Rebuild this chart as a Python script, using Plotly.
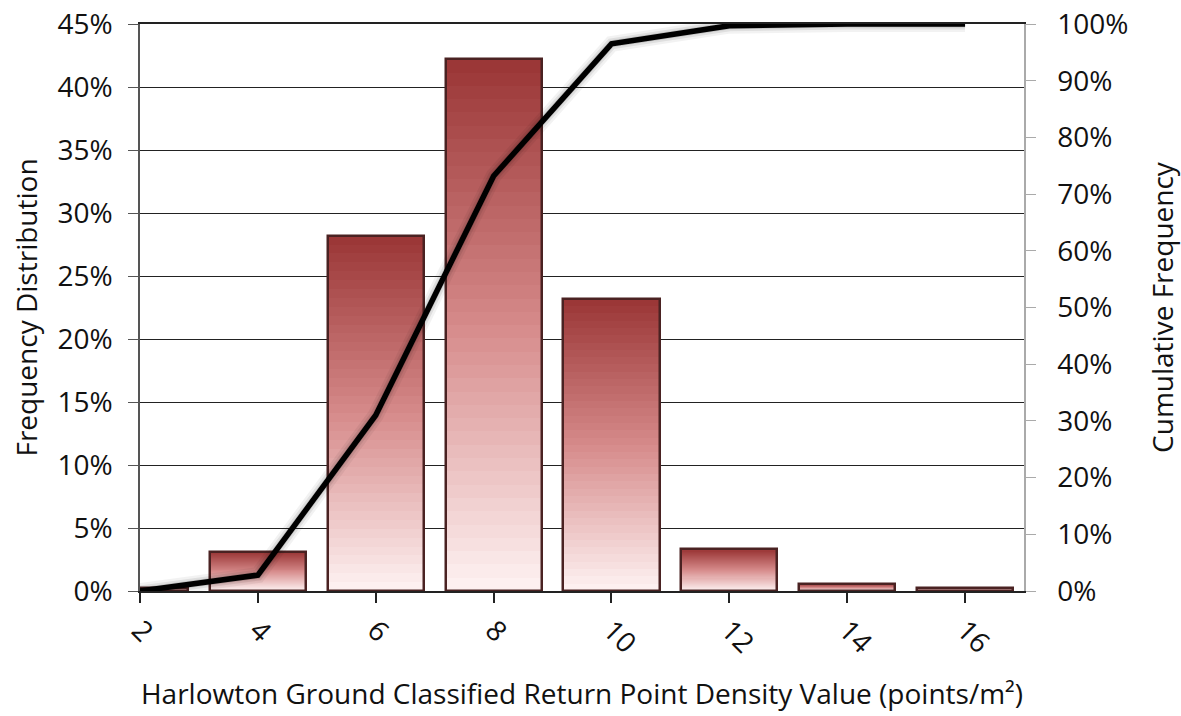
import plotly.graph_objects as go
import numpy as np

# ---- data ----
density_values = [2, 4, 6, 8, 10, 12, 14, 16]
frequency_pct = [0.0026, 0.031, 0.282, 0.422, 0.232, 0.033, 0.0055, 0.0026]
cumulative_pct = [0.0, 0.028, 0.31, 0.732, 0.965, 0.997, 1.0, 1.0]

x_title = "Harlowton Ground Classified Return Point Density Value (points/m²)"
y_title = "Frequency Distribution"
y2_title = "Cumulative Frequency"

FONT = "Open Sans"
FS = 28
BAR_W = 1.63

fig = go.Figure()

# gradient bars via overlaid layers
stops = [(0.0, (155, 55, 55)), (0.5, (214, 138, 138)), (1.0, (253, 240, 240))]


def interp(t):
    for (t0, c0), (t1, c1) in zip(stops[:-1], stops[1:]):
        if t <= t1:
            f = (t - t0) / (t1 - t0)
            return tuple(int(round(a + (b - a) * f)) for a, b in zip(c0, c1))
    return stops[-1][1]


N = 40
vals = np.array(frequency_pct)
for k in range(N):
    frac = 1 - k / N
    r, g, b = interp(k / (N - 1))
    fig.add_trace(go.Bar(
        x=density_values, y=vals * frac, width=BAR_W,
        marker=dict(color=f"rgb({r},{g},{b})", line=dict(width=0)),
        showlegend=False, hoverinfo="skip", yaxis="y"))

# outline
fig.add_trace(go.Bar(
    x=density_values, y=frequency_pct, width=BAR_W,
    marker=dict(color="rgba(0,0,0,0)", line=dict(color="#4a2222", width=2.5)),
    showlegend=False, hoverinfo="skip", yaxis="y"))

# shadow of the cumulative line (offset axes)
for w, a in [(16, 0.05), (11, 0.08), (7, 0.12)]:
    fig.add_trace(go.Scatter(
        x=density_values, y=cumulative_pct, mode="lines",
        line=dict(color=f"rgba(0,0,0,{a})", width=w),
        xaxis="x3", yaxis="y3", showlegend=False, hoverinfo="skip"))

# cumulative line
fig.add_trace(go.Scatter(
    x=density_values, y=cumulative_pct, mode="lines",
    line=dict(color="black", width=5.5),
    yaxis="y2", showlegend=False))

W, H = 1181, 716
L, R, T, B = 140, 157, 24, 125
pw = W - L - R
ph = H - T - B
dx = 8 / pw
dy = 9 / ph

fig.update_layout(
    width=W, height=H,
    margin=dict(l=L, r=R, t=T, b=B),
    paper_bgcolor="white", plot_bgcolor="white",
    barmode="overlay", bargap=0,
    font=dict(family=FONT, size=FS, color="#111"),
    xaxis=dict(
        range=[2, 17], tickvals=density_values, ticktext=[str(v) for v in density_values],
        tickangle=45, ticks="outside", ticklen=10, tickcolor="#222", tickwidth=1.5,
        showline=True, linecolor="#222", linewidth=1.5, mirror=True,
        showgrid=False, zeroline=False,
        automargin=False, ticklabeloverflow="allow",
        title=dict(text=x_title, font=dict(size=FS), standoff=25),
        tickfont=dict(size=FS)),
    yaxis=dict(
        range=[0, 0.45], dtick=0.05, tickformat=".0%",
        ticks="outside", ticklen=10, tickcolor="#555", ticklabelstandoff=10,
        showline=True, linecolor="#555", linewidth=1.5,
        showgrid=True, gridcolor="#222", gridwidth=1, zeroline=False,
        automargin=False, ticklabeloverflow="allow",
        title=dict(text=y_title, font=dict(size=FS), standoff=12),
        tickfont=dict(size=FS)),
    yaxis2=dict(
        range=[0, 1], dtick=0.1, tickformat=".0%", overlaying="y", side="right",
        ticks="outside", ticklen=10, tickcolor="#aaa", ticklabelstandoff=16,
        showline=True, linecolor="#aaa", linewidth=1.5,
        showgrid=False, zeroline=False, automargin=False, ticklabeloverflow="allow",
        title=dict(text=y2_title, font=dict(size=FS), standoff=37),
        tickfont=dict(size=FS)),
    xaxis3=dict(range=[2, 17], domain=[dx, 1], overlaying="x", anchor="y3",
                visible=False),
    yaxis3=dict(range=[0, 1], domain=[0, 1 - dy], overlaying="y", anchor="x3",
                visible=False),
)

fig.write_html("out.html",
               config={"displayModeBar": False},
               post_script="document.body.style.margin='0';")
